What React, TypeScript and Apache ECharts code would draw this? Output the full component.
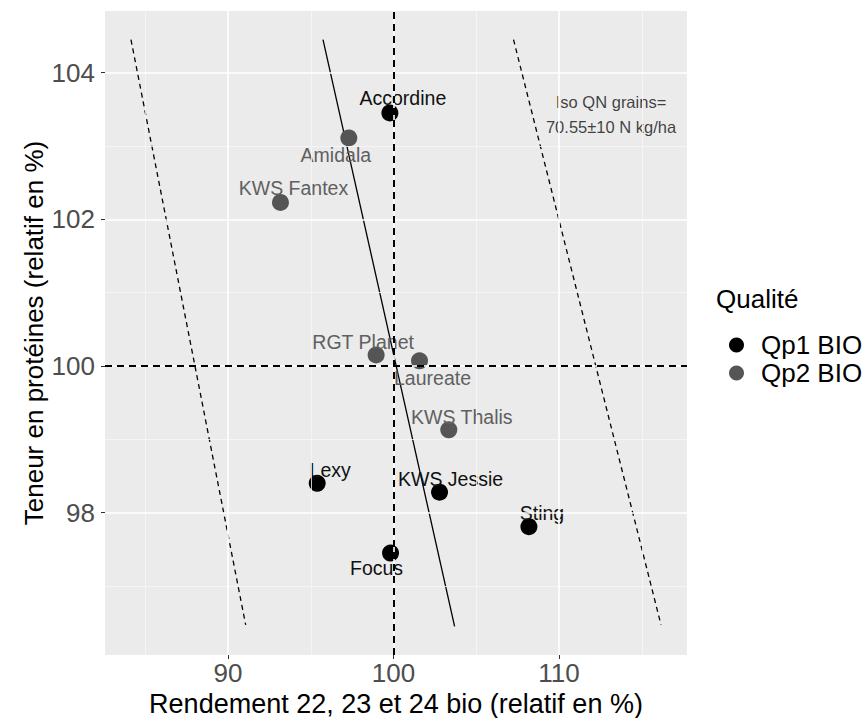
import React, { useEffect, useRef } from "react";
import * as echarts from "echarts";

// ---- data ----
const qp1Names = ["Accordine", "Lexy", "KWS Jessie", "Sting", "Focus"];
const qp1X = [99.78, 95.39, 102.78, 108.18, 99.82];
const qp1Y = [103.45, 98.4, 98.28, 97.81, 97.45];

const qp2Names = ["Amidala", "KWS Fantex", "RGT Planet", "Laureate", "KWS Thalis"];
const qp2X = [97.3, 93.17, 98.95, 101.57, 103.34];
const qp2Y = [103.11, 102.23, 100.15, 100.07, 99.13];

// regression / iso lines (endpoints)
const solidLineX = [95.74, 103.69];
const solidLineY = [104.45, 96.45];
const isoLowX = [84.14, 91.07];
const isoLowY = [104.45, 96.47];
const isoHighX = [107.25, 116.16];
const isoHighY = [104.45, 96.47];

const refX = 100;
const refY = 100;

const xTicks = [90, 100, 110];
const xMinor = [85, 95, 105, 115];
const yTicks = [98, 100, 102, 104];
const yMinor = [97, 99, 101, 103];

const xRange = [82.57, 117.73];
const yRange = [96.06, 104.84];

const isoText = "Iso QN grains=\n70.55±10 N kg/ha";
const isoTextPos = [113.14, 103.43];
const legendTitle = "Qualité";
const seriesNames = ["Qp1 BIO", "Qp2 BIO"];

// label offsets (layout, px) for ggrepel-like placement
const qp1LabelOffsets = [[13, -15], [13, -13], [11, -13], [13, -14], [-14, 15]];
const qp2LabelOffsets = [[-13, 17], [13, -14], [-13, -13], [13, 17], [13, -13]];

const FONT = "'Liberation Sans', Arial, Helvetica, sans-serif";

export default function App() {
  const ref = useRef<HTMLDivElement>(null);
  useEffect(() => {
    if (!ref.current) return;
    const chart = echarts.init(ref.current, undefined, { renderer: "svg" });

    const mkPoints = (names: string[], xs: number[], ys: number[], offs: number[][]) =>
      names.map((n, i) => ({
        value: [xs[i], ys[i]],
        name: n,
        label: { offset: offs[i] },
      }));

    const gridLines = (vals: number[], axis: "xAxis" | "yAxis") => vals.map((v) => ({ [axis]: v }));

    const lineSeries = (xs: number[], ys: number[], dashed: boolean, z: number) => ({
      type: "line",
      data: xs.map((x, i) => [x, ys[i]]),
      showSymbol: false,
      symbol: "none",
      silent: true,
      z,
      lineStyle: { color: "#000", width: 1.3, type: dashed ? [5, 4] : "solid" },
      legendHoverLink: false,
    });

    chart.setOption({
      animation: false,
      grid: {
        left: 105,
        top: 11,
        right: 867 - 687,
        bottom: 718 - 655,
        show: true,
        backgroundColor: "#EBEBEB",
        borderWidth: 0,
      },
      xAxis: {
        type: "value",
        min: xRange[0],
        max: xRange[1],
        splitLine: { show: false },
        axisLine: { show: false },
        axisTick: { show: true, customValues: xTicks, length: 4, lineStyle: { color: "#333", width: 1 } },
        axisLabel: {
          customValues: xTicks,
          fontSize: 26,
          lineHeight: 26,
          fontFamily: FONT,
          color: "#4D4D4D",
          margin: 5,
        },
      },
      yAxis: {
        type: "value",
        min: yRange[0],
        max: yRange[1],
        splitLine: { show: false },
        axisLine: { show: false },
        axisTick: { show: true, customValues: yTicks, length: 4, lineStyle: { color: "#333", width: 1 } },
        axisLabel: {
          customValues: yTicks,
          fontSize: 26,
          fontFamily: FONT,
          color: "#4D4D4D",
          margin: 10,
        },
      },
      legend: {
        data: seriesNames.map((n) => ({ name: n, icon: "circle" })),
        orient: "vertical",
        left: 724,
        top: 327,
        itemWidth: 15,
        itemHeight: 15,
        itemGap: 2,
        selectedMode: false,
        textStyle: {
          fontSize: 26,
          fontFamily: FONT,
          color: "#000",
          lineHeight: 25,
          padding: [0, 0, 0, 12],
        },
      },
      graphic: [
        {
          type: "text",
          left: 716,
          top: 286,
          style: { text: legendTitle, font: `26px ${FONT}`, fill: "#000" },
        },
        {
          type: "text",
          x: 396,
          y: 704,
          style: {
            text: "Rendement 22, 23 et 24 bio (relatif en %)",
            font: `27px ${FONT}`,
            fill: "#000",
            align: "center",
            verticalAlign: "middle",
          },
        },
        {
          type: "text",
          x: 34,
          y: 333,
          rotation: Math.PI / 2,
          style: {
            text: "Teneur en protéines (relatif en %)",
            font: `26px ${FONT}`,
            fill: "#000",
            align: "center",
            verticalAlign: "middle",
          },
        },
      ],
      series: [
        {
          type: "scatter",
          name: "__grid",
          data: [[refX, refY]],
          symbolSize: 0,
          silent: true,
          z: 1,
          legendHoverLink: false,
          markLine: {
            silent: true,
            symbol: "none",
            label: { show: false },
            animation: false,
            data: [
              ...gridLines(xMinor, "xAxis").map((d) => ({ ...d, lineStyle: { color: "#F7F7F7", width: 0.8, type: "solid" } })),
              ...gridLines(yMinor, "yAxis").map((d) => ({ ...d, lineStyle: { color: "#F7F7F7", width: 0.8, type: "solid" } })),
              ...gridLines(xTicks, "xAxis").map((d) => ({ ...d, lineStyle: { color: "#FFFFFF", width: 1.6, type: "solid" } })),
              ...gridLines(yTicks, "yAxis").map((d) => ({ ...d, lineStyle: { color: "#FFFFFF", width: 1.6, type: "solid" } })),
            ],
          },
        },
        {
          type: "scatter",
          name: "__ref",
          data: [[refX, refY]],
          symbolSize: 0,
          silent: true,
          z: 3,
          legendHoverLink: false,
          markLine: {
            silent: true,
            symbol: "none",
            label: { show: false },
            animation: false,
            lineStyle: { color: "#000", width: 2, type: [7, 5] },
            data: [{ xAxis: refX }, { yAxis: refY }],
          },
        },
        lineSeries(isoLowX, isoLowY, true, 3),
        lineSeries(isoHighX, isoHighY, true, 3),
        lineSeries(solidLineX, solidLineY, false, 3),
        {
          type: "scatter",
          name: "__iso",
          data: [{ value: isoTextPos, name: isoText }],
          symbolSize: 0,
          silent: true,
          z: 4,
          legendHoverLink: false,
          label: {
            show: true,
            position: "inside",
            formatter: "{b}",
            fontSize: 16.5,
            lineHeight: 25,
            fontFamily: FONT,
            color: "#111",
            align: "center",
          },
        },
        {
          type: "scatter",
          name: seriesNames[0],
          symbol: "circle",
          symbolSize: 17,
          z: 4,
          itemStyle: { color: "#000", opacity: 1 },
          label: {
            show: true,
            position: "inside",
            formatter: "{b}",
            fontSize: 19.5,
            fontFamily: FONT,
            color: "#111",
          },
          data: mkPoints(qp1Names, qp1X, qp1Y, qp1LabelOffsets),
        },
        {
          type: "scatter",
          name: seriesNames[1],
          symbol: "circle",
          symbolSize: 17,
          z: 4,
          itemStyle: { color: "#555555", opacity: 1 },
          label: {
            show: true,
            position: "inside",
            formatter: "{b}",
            fontSize: 19.5,
            fontFamily: FONT,
            color: "#606060",
          },
          data: mkPoints(qp2Names, qp2X, qp2Y, qp2LabelOffsets),
        },
      ],
    });
    return () => chart.dispose();
  }, []);
  return <div ref={ref} style={{ width: 867, height: 718, position: "absolute", left: 0, top: 0 }} />;
}
